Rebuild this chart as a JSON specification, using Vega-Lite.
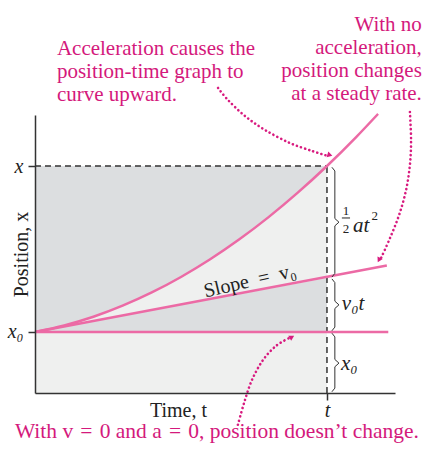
{
  "$schema": "https://vega.github.io/schema/vega-lite/v6.json",
  "autosize": "none",
  "width": 360,
  "height": 278,
  "padding": {"left": 35, "top": 115, "right": 29, "bottom": 57},
  "background": "white",
  "config": {"view": {"stroke": null}, "font": "Times New Roman, Liberation Serif, DejaVu Serif, serif"},
  "datasets": {
    "curve": [
      {"t": 0, "par": 1, "lin": 1},
      {"t": 0.1, "par": 1.107, "lin": 1.0885},
      {"t": 0.2, "par": 1.25, "lin": 1.177},
      {"t": 0.3, "par": 1.431, "lin": 1.2655},
      {"t": 0.4, "par": 1.648, "lin": 1.354},
      {"t": 0.5, "par": 1.902, "lin": 1.4425},
      {"t": 0.6, "par": 2.192, "lin": 1.531},
      {"t": 0.7, "par": 2.519, "lin": 1.6195},
      {"t": 0.8, "par": 2.883, "lin": 1.708},
      {"t": 0.9, "par": 3.284, "lin": 1.7965},
      {"t": 1.0, "par": 3.721, "lin": 1.885},
      {"t": 1.1, "par": 4.195, "lin": 1.9735},
      {"t": 1.175, "par": 4.575, "lin": 2.04}
    ],
    "linLine": [{"t": 0, "y": 1}, {"t": 1.205, "y": 2.09}],
    "flatLine": [{"t": 0, "y": 1}, {"t": 1.21, "y": 1}],
    "arrows": [
      {"a": 1, "i": 0, "t": 0.627, "y": 5.0},
      {"a": 1, "i": 1, "t": 0.661, "y": 4.803},
      {"a": 1, "i": 2, "t": 0.719, "y": 4.541},
      {"a": 1, "i": 3, "t": 0.788, "y": 4.311},
      {"a": 1, "i": 4, "t": 0.873, "y": 4.098},
      {"a": 1, "i": 5, "t": 0.949, "y": 3.967},
      {"a": 1, "i": 6, "t": 1.0, "y": 3.89},
      {"a": 2, "i": 0, "t": 1.284, "y": 4.607},
      {"a": 2, "i": 1, "t": 1.288, "y": 4.148},
      {"a": 2, "i": 2, "t": 1.284, "y": 3.738},
      {"a": 2, "i": 3, "t": 1.271, "y": 3.328},
      {"a": 2, "i": 4, "t": 1.247, "y": 2.918},
      {"a": 2, "i": 5, "t": 1.216, "y": 2.541},
      {"a": 2, "i": 6, "t": 1.186, "y": 2.22},
      {"a": 3, "i": 0, "t": 0.695, "y": -0.52},
      {"a": 3, "i": 1, "t": 0.716, "y": -0.164},
      {"a": 3, "i": 2, "t": 0.743, "y": 0.213},
      {"a": 3, "i": 3, "t": 0.781, "y": 0.541},
      {"a": 3, "i": 4, "t": 0.825, "y": 0.77},
      {"a": 3, "i": 5, "t": 0.87, "y": 0.9}
    ],
    "braces": [
      {"b": 1, "i": 0, "t": 1.017, "y": 3.7},
      {"b": 1, "i": 1, "t": 1.027, "y": 3.64},
      {"b": 1, "i": 2, "t": 1.027, "y": 2.86},
      {"b": 1, "i": 3, "t": 1.041, "y": 2.8},
      {"b": 1, "i": 4, "t": 1.027, "y": 2.74},
      {"b": 1, "i": 5, "t": 1.027, "y": 1.96},
      {"b": 1, "i": 6, "t": 1.017, "y": 1.9},
      {"b": 2, "i": 0, "t": 1.017, "y": 1.87},
      {"b": 2, "i": 1, "t": 1.027, "y": 1.81},
      {"b": 2, "i": 2, "t": 1.027, "y": 1.505},
      {"b": 2, "i": 3, "t": 1.041, "y": 1.445},
      {"b": 2, "i": 4, "t": 1.027, "y": 1.385},
      {"b": 2, "i": 5, "t": 1.027, "y": 1.08},
      {"b": 2, "i": 6, "t": 1.017, "y": 1.02},
      {"b": 3, "i": 0, "t": 1.017, "y": 0.98},
      {"b": 3, "i": 1, "t": 1.027, "y": 0.92},
      {"b": 3, "i": 2, "t": 1.027, "y": 0.55},
      {"b": 3, "i": 3, "t": 1.041, "y": 0.49},
      {"b": 3, "i": 4, "t": 1.027, "y": 0.43},
      {"b": 3, "i": 5, "t": 1.027, "y": 0.08},
      {"b": 3, "i": 6, "t": 1.017, "y": 0.02}
    ]
  },
  "layer": [
    {
      "data": {"values": [{"t": 0, "t2": 1, "y": 0, "y2": 3.721}]},
      "mark": {"type": "rect", "fill": "#eff0ef"},
      "encoding": {
        "x": {
          "field": "t", "type": "quantitative",
          "scale": {"domain": [0, 1.233], "nice": false, "zero": false},
          "axis": {
            "values": [1], "labelExpr": "'t'", "grid": false, "zindex": 1,
            "title": "Time, t", "titleX": 143, "titleY": 23, "titleBaseline": "alphabetic", "titleAlign": "center",
            "titleFont": "Times New Roman, Liberation Serif, DejaVu Serif, serif", "titleFontSize": 20, "titleFontWeight": "normal", "titleColor": "#222",
            "labelFont": "Times New Roman, Liberation Serif, DejaVu Serif, serif", "labelFontStyle": "italic", "labelFontSize": 20, "labelColor": "#222",
            "labelBaseline": "alphabetic", "labelPadding": 16, "tickSize": 7, "tickColor": "#333", "tickWidth": 1.5,
            "domainColor": "#333", "domainWidth": 1.5
          }
        },
        "x2": {"field": "t2"},
        "y": {
          "field": "y", "type": "quantitative",
          "scale": {"domain": [0, 4.557], "nice": false, "zero": false},
          "axis": {
            "values": [1, 3.721], "labelExpr": "datum.value == 1 ? 'x₀' : 'x'", "grid": false, "zindex": 1,
            "title": "Position, x", "titleX": -8, "titleY": 139, "titleAngle": -90, "titleBaseline": "alphabetic", "titleAlign": "center",
            "titleFont": "Times New Roman, Liberation Serif, DejaVu Serif, serif", "titleFontSize": 20, "titleFontWeight": "normal", "titleColor": "#222",
            "labelFont": "Times New Roman, Liberation Serif, DejaVu Serif, serif", "labelFontStyle": "italic", "labelFontSize": 20, "labelColor": "#222",
            "labelPadding": 5, "tickSize": 7, "tickColor": "#333", "tickWidth": 1.5,
            "domainColor": "#333", "domainWidth": 1.5
          }
        },
        "y2": {"field": "y2"}
      }
    },
    {
      "data": {"name": "curve"},
      "transform": [{"filter": "datum.t <= 1"}],
      "mark": {"type": "area", "fill": "#dcdee0"},
      "encoding": {
        "x": {"field": "t", "type": "quantitative"},
        "y": {"field": "par", "type": "quantitative"},
        "y2": {"datum": 3.721}
      }
    },
    {
      "data": {"name": "curve"},
      "transform": [{"filter": "datum.t <= 1"}],
      "mark": {"type": "area", "fill": "#dcdee0"},
      "encoding": {
        "x": {"field": "t", "type": "quantitative"},
        "y": {"field": "lin", "type": "quantitative"},
        "y2": {"datum": 1}
      }
    },
    {
      "data": {"values": [
        {"t": 0, "t2": 1, "y": 3.721, "y2": 3.721},
        {"t": 1, "t2": 1, "y": 0, "y2": 3.721}
      ]},
      "mark": {"type": "rule", "color": "#333", "strokeWidth": 1.5, "strokeDash": [6, 4]},
      "encoding": {
        "x": {"field": "t", "type": "quantitative"},
        "x2": {"field": "t2"},
        "y": {"field": "y", "type": "quantitative"},
        "y2": {"field": "y2"}
      }
    },
    {
      "data": {"name": "curve"},
      "mark": {"type": "line", "color": "#ec6aa5", "strokeWidth": 2.5, "interpolate": "monotone"},
      "encoding": {
        "x": {"field": "t", "type": "quantitative"},
        "y": {"field": "par", "type": "quantitative"}
      }
    },
    {
      "data": {"name": "linLine"},
      "mark": {"type": "line", "color": "#ec6aa5", "strokeWidth": 2.5},
      "encoding": {
        "x": {"field": "t", "type": "quantitative"},
        "y": {"field": "y", "type": "quantitative"}
      }
    },
    {
      "data": {"name": "flatLine"},
      "mark": {"type": "line", "color": "#ec6aa5", "strokeWidth": 2.5},
      "encoding": {
        "x": {"field": "t", "type": "quantitative"},
        "y": {"field": "y", "type": "quantitative"}
      }
    },
    {
      "data": {"name": "braces"},
      "mark": {"type": "line", "color": "#333", "strokeWidth": 1},
      "encoding": {
        "x": {"field": "t", "type": "quantitative"},
        "y": {"field": "y", "type": "quantitative"},
        "detail": {"field": "b"},
        "order": {"field": "i"}
      }
    },
    {
      "data": {"name": "arrows"},
      "mark": {"type": "line", "color": "#d81b7f", "strokeWidth": 2.6, "strokeDash": [0.1, 4.2], "strokeCap": "round", "interpolate": "cardinal"},
      "encoding": {
        "x": {"field": "t", "type": "quantitative"},
        "y": {"field": "y", "type": "quantitative"},
        "detail": {"field": "a"},
        "order": {"field": "i"}
      }
    },
    {
      "data": {"values": [{"t": 1.01, "y": 3.9}]},
      "mark": {"type": "point", "shape": "triangle-right", "filled": true, "color": "#d81b7f", "size": 35, "angle": 17, "opacity": 1},
      "encoding": {
        "x": {"field": "t", "type": "quantitative"},
        "y": {"field": "y", "type": "quantitative"}
      }
    },
    {
      "data": {"values": [{"t": 1.178, "y": 2.18}]},
      "mark": {"type": "point", "shape": "triangle-right", "filled": true, "color": "#d81b7f", "size": 35, "angle": 117, "opacity": 1},
      "encoding": {
        "x": {"field": "t", "type": "quantitative"},
        "y": {"field": "y", "type": "quantitative"}
      }
    },
    {
      "data": {"values": [{"t": 0.88, "y": 0.918}]},
      "mark": {"type": "point", "shape": "triangle-right", "filled": true, "color": "#d81b7f", "size": 35, "angle": -30, "opacity": 1},
      "encoding": {
        "x": {"field": "t", "type": "quantitative"},
        "y": {"field": "y", "type": "quantitative"}
      }
    },
    {
      "data": {"values": [
        {"t": 0.075, "y": 5.541, "s": "Acceleration causes the"},
        {"t": 0.075, "y": 5.164, "s": "position-time graph to"},
        {"t": 0.075, "y": 4.787, "s": "curve upward."}
      ]},
      "mark": {"type": "text", "align": "left", "baseline": "alphabetic", "font": "Times New Roman, Liberation Serif, DejaVu Serif, serif", "fontSize": 21, "color": "#d4197c"},
      "encoding": {
        "x": {"field": "t", "type": "quantitative"},
        "y": {"field": "y", "type": "quantitative"},
        "text": {"field": "s"}
      }
    },
    {
      "data": {"values": [
        {"t": 1.325, "y": 5.934, "s": "With no"},
        {"t": 1.325, "y": 5.557, "s": "acceleration,"},
        {"t": 1.325, "y": 5.18, "s": "position changes"},
        {"t": 1.325, "y": 4.803, "s": "at a steady rate."}
      ]},
      "mark": {"type": "text", "align": "right", "baseline": "alphabetic", "font": "Times New Roman, Liberation Serif, DejaVu Serif, serif", "fontSize": 21, "color": "#d4197c"},
      "encoding": {
        "x": {"field": "t", "type": "quantitative"},
        "y": {"field": "y", "type": "quantitative"},
        "text": {"field": "s"}
      }
    },
    {
      "data": {"values": [
        {"t": 0.623, "y": -0.738, "s": "With v\u2004=\u20040 and a\u2004=\u20040, position doesn’t change."}
      ]},
      "mark": {"type": "text", "align": "center", "baseline": "alphabetic", "font": "Times New Roman, Liberation Serif, DejaVu Serif, serif", "fontSize": 21.5, "color": "#d4197c"},
      "encoding": {
        "x": {"field": "t", "type": "quantitative"},
        "y": {"field": "y", "type": "quantitative"},
        "text": {"field": "s"}
      }
    },
    {
      "data": {"values": [
        {"t": 1.089, "y": 2.639, "s": "at"},
        {"t": 1.051, "y": 1.361, "s": "v₀t"},
        {"t": 1.048, "y": 0.377, "s": "x₀"}
      ]},
      "mark": {"type": "text", "align": "left", "baseline": "alphabetic", "font": "Times New Roman, Liberation Serif, DejaVu Serif, serif", "fontStyle": "italic", "fontSize": 21, "color": "#222"},
      "encoding": {
        "x": {"field": "t", "type": "quantitative"},
        "y": {"field": "y", "type": "quantitative"},
        "text": {"field": "s"}
      }
    },
    {
      "data": {"values": [
        {"t": 1.065, "y": 2.918, "s": "1"},
        {"t": 1.065, "y": 2.623, "s": "2"},
        {"t": 1.164, "y": 2.836, "s": "2"}
      ]},
      "mark": {"type": "text", "align": "center", "baseline": "alphabetic", "font": "Times New Roman, Liberation Serif, DejaVu Serif, serif", "fontSize": 13, "color": "#222"},
      "encoding": {
        "x": {"field": "t", "type": "quantitative"},
        "y": {"field": "y", "type": "quantitative"},
        "text": {"field": "s"}
      }
    },
    {
      "data": {"values": [{"t": 1.051, "t2": 1.079, "y": 2.869}]},
      "mark": {"type": "rule", "color": "#222", "strokeWidth": 1},
      "encoding": {
        "x": {"field": "t", "type": "quantitative"},
        "x2": {"field": "t2"},
        "y": {"field": "y", "type": "quantitative"}
      }
    },
    {
      "data": {"values": [{"t": 0.736, "y": 1.836, "s": "Slope\u2002=\u2002v₀"}]},
      "mark": {"type": "text", "align": "center", "baseline": "middle", "angle": -13, "font": "Times New Roman, Liberation Serif, DejaVu Serif, serif", "fontSize": 20, "color": "#222"},
      "encoding": {
        "x": {"field": "t", "type": "quantitative"},
        "y": {"field": "y", "type": "quantitative"},
        "text": {"field": "s"}
      }
    }
  ]
}
